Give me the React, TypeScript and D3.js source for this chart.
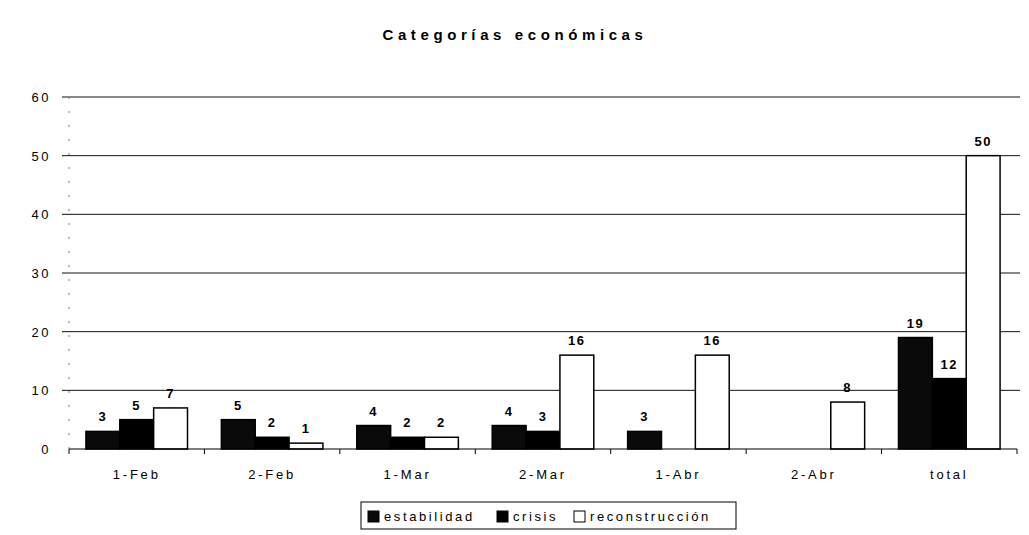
import { useEffect, useRef } from 'react';
import * as d3 from 'd3';

const categories = ['1-Feb', '2-Feb', '1-Mar', '2-Mar', '1-Abr', '2-Abr', 'total'];
const seriesNames = ['estabilidad', 'crisis', 'reconstrucción'];
const estabilidad = [3, 5, 4, 4, 3, 0, 19];
const crisis = [5, 2, 2, 3, 0, 0, 12];
const reconstruccion = [7, 1, 2, 16, 16, 8, 50];
const yTicks = [0, 10, 20, 30, 40, 50, 60];

const seriesFill = ['#0a0a0a', '#000000', '#ffffff'];
const FONT = 'Liberation Sans, Arial, sans-serif';

export default function App() {
  const svgRef = useRef<SVGSVGElement>(null);

  useEffect(() => {
    document.body.style.margin = '0';
    if (!svgRef.current) return;

    const W = 1029;
    const H = 535;
    const left = 69;
    const right = 1017;
    const top = 97;
    const bottom = 449;

    const svg = d3.select(svgRef.current);
    svg.selectAll('*').remove();
    svg.attr('width', W).attr('height', H);

    svg.append('rect').attr('width', W).attr('height', H).attr('fill', '#fff');

    const values = [estabilidad, crisis, reconstruccion];

    const x = d3.scaleBand<string>().domain(categories).range([left, right]).padding(0);
    const xSub = d3.scaleBand<string>()
      .domain(seriesNames)
      .range([0, x.bandwidth()])
      .paddingInner(0)
      .paddingOuter(0.5);
    const y = d3.scaleLinear().domain([0, 60]).range([bottom, top]);

    // Title
    svg.append('text')
      .attr('x', 515)
      .attr('y', 40)
      .attr('text-anchor', 'middle')
      .attr('font-family', FONT)
      .attr('font-weight', 'bold')
      .attr('font-size', 15)
      .attr('letter-spacing', 4.6)
      .text('Categorías económicas');

    // Grid
    svg.append('g')
      .selectAll('line')
      .data(yTicks.filter((d) => d > 0))
      .join('line')
      .attr('x1', left - 7)
      .attr('x2', right + 3)
      .attr('y1', (d) => y(d))
      .attr('y2', (d) => y(d))
      .attr('stroke', '#111')
      .attr('stroke-width', 1);

    // Y axis (faint in the scan)
    svg.append('line')
      .attr('x1', left).attr('x2', left)
      .attr('y1', top).attr('y2', bottom)
      .attr('stroke', '#777')
      .attr('stroke-dasharray', '2,12');

    // Y tick labels
    svg.append('g')
      .selectAll('text')
      .data(yTicks)
      .join('text')
      .attr('x', 51)
      .attr('y', (d) => y(d) + 5)
      .attr('text-anchor', 'end')
      .attr('font-family', FONT)
      .attr('font-size', 13)
      .attr('letter-spacing', 2.5)
      .text((d) => d);

    // Bars
    const groups = svg.append('g')
      .selectAll('g')
      .data(categories)
      .join('g')
      .attr('transform', (d) => `translate(${x(d)},0)`);

    groups.selectAll('rect')
      .data((_, i) => seriesNames.map((s, k) => ({ s, k, v: values[k][i] })).filter((d) => d.v > 0))
      .join('rect')
      .attr('x', (d) => xSub(d.s)!)
      .attr('y', (d) => y(d.v))
      .attr('width', xSub.bandwidth())
      .attr('height', (d) => bottom - y(d.v))
      .attr('fill', (d) => seriesFill[d.k])
      .attr('stroke', '#000')
      .attr('stroke-width', 1.5);

    groups.selectAll('text')
      .data((_, i) => seriesNames.map((s, k) => ({ s, k, v: values[k][i] })).filter((d) => d.v > 0))
      .join('text')
      .attr('x', (d) => xSub(d.s)! + xSub.bandwidth() / 2)
      .attr('y', (d) => y(d.v) - 10)
      .attr('text-anchor', 'middle')
      .attr('font-family', FONT)
      .attr('font-weight', 'bold')
      .attr('font-size', 13)
      .attr('letter-spacing', 1.5)
      .text((d) => d.v);

    // X axis
    svg.append('line')
      .attr('x1', left).attr('x2', right)
      .attr('y1', bottom).attr('y2', bottom)
      .attr('stroke', '#000')
      .attr('stroke-width', 1.2);

    svg.append('g')
      .selectAll('line')
      .data([...categories.map((c) => x(c)!), right])
      .join('line')
      .attr('x1', (d) => d).attr('x2', (d) => d)
      .attr('y1', bottom).attr('y2', bottom + 5)
      .attr('stroke', '#000');

    svg.append('g')
      .selectAll('text')
      .data(categories)
      .join('text')
      .attr('x', (d) => x(d)! + x.bandwidth() / 2)
      .attr('y', 479)
      .attr('text-anchor', 'middle')
      .attr('font-family', FONT)
      .attr('font-size', 13)
      .attr('letter-spacing', 2.8)
      .text((d) => d);

    // Legend
    const legend = svg.append('g');
    legend.append('rect')
      .attr('x', 361).attr('y', 502)
      .attr('width', 375).attr('height', 27)
      .attr('fill', '#fff')
      .attr('stroke', '#000');
    const itemX = [368, 497, 574];
    seriesNames.forEach((s, k) => {
      legend.append('rect')
        .attr('x', itemX[k]).attr('y', 511)
        .attr('width', 11).attr('height', 11)
        .attr('fill', seriesFill[k])
        .attr('stroke', '#000');
      legend.append('text')
        .attr('x', itemX[k] + 16)
        .attr('y', 521)
        .attr('font-family', FONT)
        .attr('font-size', 13)
        .attr('letter-spacing', 2.6)
        .text(s);
    });
  }, []);

  return <svg ref={svgRef} style={{ display: 'block' }} />;
}
